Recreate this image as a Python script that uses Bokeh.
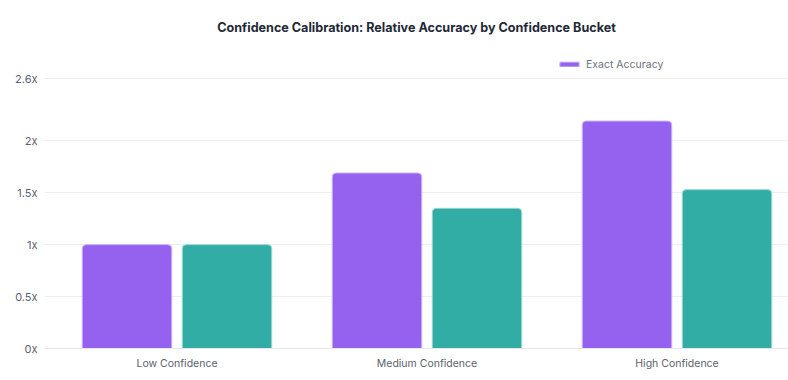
from bokeh.plotting import figure
from bokeh.models import ColumnDataSource, Range1d, FixedTicker, Legend, LegendItem
from bokeh.embed import file_html
from bokeh.resources import INLINE

categories = ["Low Confidence", "Medium Confidence", "High Confidence"]
exact_accuracy = [1.0, 1.69, 2.19]
other_accuracy = [1.0, 1.35, 1.53]
y_ticks = [0, 0.5, 1, 1.5, 2, 2.6]
y_tick_labels = ["0x", "0.5x", "1x", "1.5x", "2x", "2.6x"]

idx = list(range(len(categories)))
src = ColumnDataSource(dict(
    x1=[i - 0.2 for i in idx],
    x2=[i + 0.2 for i in idx],
    exact=exact_accuracy,
    other=other_accuracy,
))

FONT = "Inter"

# frame: x 44..788, y 50..348 (2.6 sits at y=78)
p = figure(width=788, height=380, output_backend="svg", toolbar_location=None,
           x_range=Range1d(-0.53, 2.446), y_range=Range1d(0, 2.6 * 298 / 270),
           min_border_left=44, min_border_right=0, min_border_top=50, min_border_bottom=32)

p.background_fill_color = "white"
p.border_fill_color = "white"
p.outline_line_color = None

r1 = p.vbar(x="x1", top="exact", width=0.358, source=src, fill_color="#9562F0",
            line_color="#C9B2F7", line_width=1, border_radius=(4, 4, 0, 0))
r2 = p.vbar(x="x2", top="other", width=0.358, source=src, fill_color="#32ADA6",
            line_color="#9ED8D3", line_width=1, border_radius=(4, 4, 0, 0))

p.title.text = "Confidence Calibration: Relative Accuracy by Confidence Bucket"
p.title.align = "center"
p.title.text_font = FONT
p.title.text_font_size = "12.6px"
p.title.text_font_style = "bold"
p.title.text_color = "#1f2937"
p.title.standoff = 32
p.title.offset = -6

p.xaxis.ticker = FixedTicker(ticks=idx)
p.xaxis.major_label_overrides = {i: c for i, c in zip(idx, categories)}
p.xaxis.axis_line_color = "#e8e8ec"
p.xaxis.major_tick_line_color = None
p.xaxis.minor_tick_line_color = None
p.xaxis.major_label_text_font = FONT
p.xaxis.major_label_text_font_size = "10.5px"
p.xaxis.major_label_text_color = "#5b6170"
p.xaxis.major_label_standoff = 2

p.yaxis.ticker = FixedTicker(ticks=y_ticks)
p.yaxis.major_label_overrides = {t: l for t, l in zip(y_ticks, y_tick_labels)}
p.yaxis.axis_line_color = None
p.yaxis.major_tick_line_color = None
p.yaxis.minor_tick_line_color = None
p.yaxis.major_label_text_font = FONT
p.yaxis.major_label_text_font_size = "11px"
p.yaxis.major_label_text_color = "#5b6170"
p.yaxis.major_label_standoff = 1

p.xgrid.grid_line_color = None
p.ygrid.grid_line_color = "#eeeef1"
p.ygrid.ticker = FixedTicker(ticks=y_ticks)

legend = Legend(items=[LegendItem(label="Exact Accuracy", renderers=[r1])],
                location=(513, 277), orientation="horizontal")
legend.background_fill_alpha = 0
legend.border_line_color = None
legend.padding = 0
legend.margin = 0
legend.glyph_width = 24
legend.glyph_height = 6
legend.label_height = 14
legend.label_standoff = 5
legend.label_text_font = FONT
legend.label_text_font_size = "10.5px"
legend.label_text_color = "#6b7280"
p.add_layout(legend, "center")

open("out.html", "w").write(file_html(p, INLINE))
